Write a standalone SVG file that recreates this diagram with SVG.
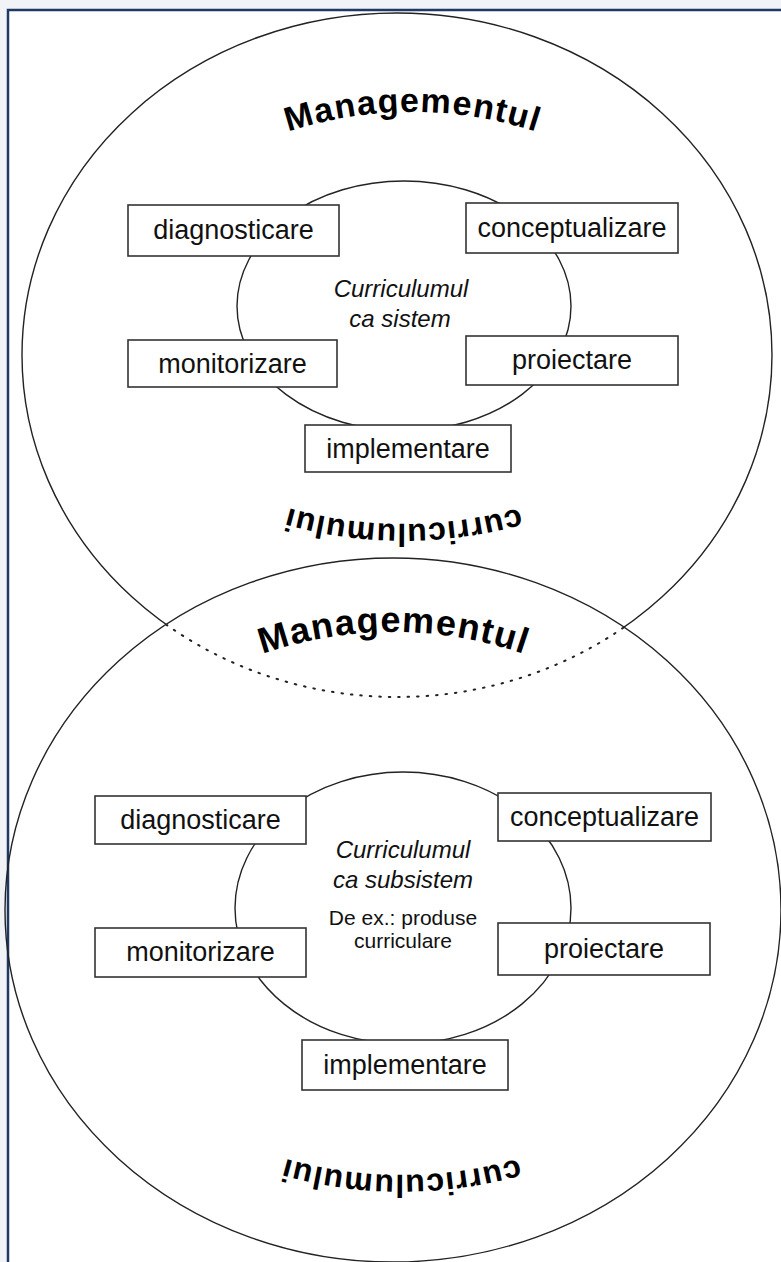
<svg xmlns="http://www.w3.org/2000/svg" width="781" height="1262" viewBox="0 0 781 1262">
<style>
.box{fill:#fff;stroke:#333;stroke-width:1.6}
.lbl{font-family:"Liberation Sans",Arial,sans-serif;font-size:27px;fill:#111;text-anchor:middle}
.it{font-family:"Liberation Sans",Arial,sans-serif;font-size:24px;font-style:italic;fill:#111;text-anchor:middle}
.sm{font-family:"Liberation Sans",Arial,sans-serif;font-size:21px;fill:#111;text-anchor:middle}
.big{font-family:"Liberation Sans",Arial,sans-serif;font-size:34px;font-weight:bold;fill:#000}
.ring{fill:none;stroke:#222;stroke-width:1.4}
.dot{fill:none;stroke:#222;stroke-width:2;stroke-dasharray:1.5 8;stroke-linecap:round}
</style>
<defs>
<clipPath id="inLower"><ellipse cx="393" cy="910" rx="388" ry="352"/></clipPath>
<clipPath id="outLower"><path clip-rule="evenodd" d="M-10 -10H800V1280H-10Z M5 910 a388 352 0 1 0 776 0 a388 352 0 1 0 -776 0Z"/></clipPath>
<path id="arcTop1" d="M12 512 A400 400 0 0 1 812 512"/>
<path id="arcBot1" d="M832 96 A428 428 0 0 1 -24 96"/>
<path id="arcTop2" d="M-7 1032 A400 400 0 0 1 793 1032"/>
<path id="arcBot2" d="M830 747 A428 428 0 0 1 -26 747"/>
</defs>
<rect x="0" y="0" width="781" height="1262" fill="#f1f3f6"/>
<rect x="8" y="10" width="800" height="1280" fill="#fff" stroke="#1f3864" stroke-width="2.5"/>

<g id="connectors">
<ellipse class="ring" cx="397" cy="355" rx="375" ry="342" clip-path="url(#outLower)"/>
<ellipse class="dot" cx="397" cy="355" rx="375" ry="342" clip-path="url(#inLower)"/>
<ellipse class="ring" cx="393" cy="910" rx="388" ry="352"/>
<ellipse class="ring" cx="404" cy="306" rx="167" ry="125"/>
<ellipse class="ring" cx="403" cy="908" rx="168" ry="136"/>
</g>

<g id="title-top">
<text class="big"><textPath href="#arcTop1" startOffset="50%" text-anchor="middle" textLength="252">Managementul</textPath></text>
<text class="big" style="font-size:32px"><textPath href="#arcBot1" startOffset="50%" text-anchor="middle" textLength="234">curriculumului</textPath></text>
</g>
<g id="title-bottom">
<text class="big" style="font-size:36px"><textPath href="#arcTop2" startOffset="50%" text-anchor="middle" textLength="266">Managementul</textPath></text>
<text class="big" style="font-size:32px"><textPath href="#arcBot2" startOffset="50%" text-anchor="middle" textLength="236">curriculumului</textPath></text>
</g>

<g id="center-top">
<text class="it" x="401" y="297">Curriculumul</text>
<text class="it" x="400" y="327">ca sistem</text>
</g>
<g id="diag1"><rect class="box" x="128" y="205" width="211" height="51"/><text class="lbl" x="233.5" y="239">diagnosticare</text></g>
<g id="conc1"><rect class="box" x="466" y="203" width="212" height="50"/><text class="lbl" x="572" y="237">conceptualizare</text></g>
<g id="moni1"><rect class="box" x="128" y="340" width="209" height="47"/><text class="lbl" x="232.5" y="373">monitorizare</text></g>
<g id="proi1"><rect class="box" x="466" y="336" width="212" height="49"/><text class="lbl" x="572" y="369">proiectare</text></g>
<g id="impl1"><rect class="box" x="305" y="425" width="206" height="47"/><text class="lbl" x="408" y="458">implementare</text></g>

<g id="center-bottom">
<text class="it" x="403" y="858">Curriculumul</text>
<text class="it" x="403" y="888">ca subsistem</text>
<text class="sm" x="403" y="925">De ex.: produse</text>
<text class="sm" x="403" y="948">curriculare</text>
</g>
<g id="diag2"><rect class="box" x="95" y="796" width="211" height="48"/><text class="lbl" x="200.5" y="829">diagnosticare</text></g>
<g id="conc2"><rect class="box" x="498" y="793" width="213" height="48"/><text class="lbl" x="604.5" y="826">conceptualizare</text></g>
<g id="moni2"><rect class="box" x="95" y="928" width="211" height="49"/><text class="lbl" x="200.5" y="961">monitorizare</text></g>
<g id="proi2"><rect class="box" x="498" y="923" width="212" height="52"/><text class="lbl" x="604" y="958">proiectare</text></g>
<g id="impl2"><rect class="box" x="302" y="1040" width="206" height="50"/><text class="lbl" x="405" y="1074">implementare</text></g>
</svg>
